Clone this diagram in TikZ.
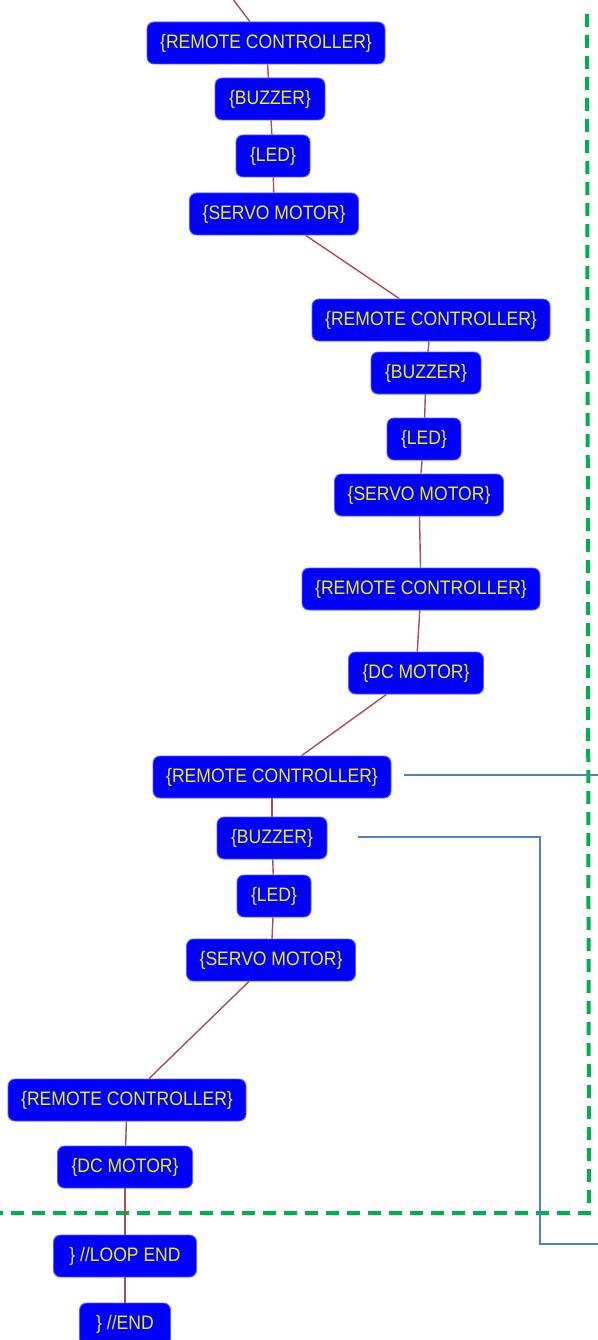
\documentclass[tikz,border=0pt]{standalone}
\usepackage{fontspec}
\setmainfont{Liberation Sans}[FakeStretch=0.9]
\definecolor{flowc}{RGB}{165,80,80}
\definecolor{linkc}{RGB}{79,129,189}
\definecolor{framec}{RGB}{0,176,80}
\definecolor{blkedge}{RGB}{90,90,255}
\definecolor{blktext}{RGB}{240,240,0}
\begin{document}
\begin{tikzpicture}[x=1pt,y=-1pt,
  blk/.style={draw=blkedge, line width=0.9pt, fill=blue, rounded corners=7pt,
    text=blktext, font=\fontsize{19.5}{20}\selectfont, minimum height=42pt,
    inner xsep=0pt, inner ysep=0pt, anchor=center},
  flow/.style={draw=flowc, line width=1.4pt},
  link/.style={draw=linkc, line width=2pt},
  frame/.style={draw=framec, line width=4pt, dash pattern=on 13pt off 8pt}]
\useasboundingbox (0,0) rectangle (597,1340);

% loop boundary
\draw[frame] (587,14) -- (589,1213) -- (0,1213);

% program blocks
\coordinate (top) at (229,-6);
\node[blk, minimum width=238pt] (n1) at (266,43) {\{REMOTE CONTROLLER\}};
\node[blk, minimum width=110pt] (n2) at (270,99) {\{BUZZER\}};
\node[blk, minimum width=74pt] (n3) at (273,156) {\{LED\}};
\node[blk, minimum width=169pt] (n4) at (274,214) {\{SERVO MOTOR\}};
\node[blk, minimum width=238pt] (n5) at (431,320) {\{REMOTE CONTROLLER\}};
\node[blk, minimum width=110pt] (n6) at (426,373) {\{BUZZER\}};
\node[blk, minimum width=74pt] (n7) at (424,439) {\{LED\}};
\node[blk, minimum width=169pt] (n8) at (419,495) {\{SERVO MOTOR\}};
\node[blk, minimum width=238pt] (n9) at (421,589) {\{REMOTE CONTROLLER\}};
\node[blk, minimum width=135pt] (n10) at (416,673) {\{DC MOTOR\}};
\node[blk, minimum width=238pt] (n11) at (272,777) {\{REMOTE CONTROLLER\}};
\node[blk, minimum width=110pt] (n12) at (272,838) {\{BUZZER\}};
\node[blk, minimum width=74pt] (n13) at (274,896) {\{LED\}};
\node[blk, minimum width=169pt] (n14) at (271,960) {\{SERVO MOTOR\}};
\node[blk, minimum width=238pt] (n15) at (127,1100) {\{REMOTE CONTROLLER\}};
\node[blk, minimum width=135pt] (n16) at (125,1167) {\{DC MOTOR\}};
\node[blk, minimum width=143pt] (n17) at (125,1256) {\} //LOOP END};
\node[blk, minimum width=91pt] (n18) at (125,1324) {\} //END};

% sequence connectors
\draw[flow] (top) -- (n1);
\foreach \a/\b in {n1/n2,n2/n3,n3/n4,n4/n5,n5/n6,n6/n7,n7/n8,n8/n9,n9/n10,
                   n10/n11,n11/n12,n12/n13,n13/n14,n14/n15,n15/n16,n16/n17,n17/n18}
  \draw[flow] (\a) -- (\b);

% side links
\coordinate (a1) at (404,775);
\coordinate (a2) at (600,775);
\draw[link] (a1) -- (a2);
\coordinate (b1) at (358,837);
\coordinate (b2) at (540,837);
\coordinate (b3) at (540,1244);
\coordinate (b4) at (600,1244);
\draw[link] (b1) -- (b2) -- (b3) -- (b4);
\end{tikzpicture}
\end{document}
